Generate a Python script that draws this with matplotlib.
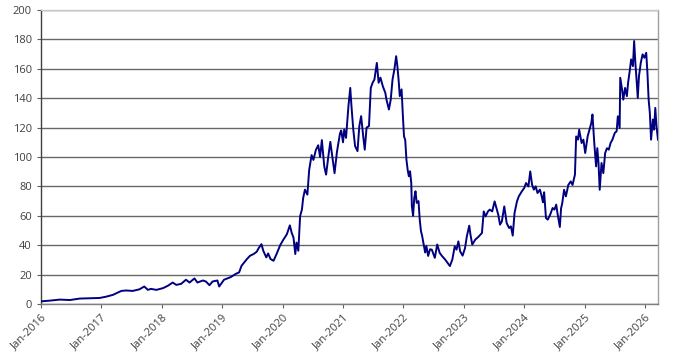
import matplotlib
matplotlib.use("Agg")
import matplotlib.pyplot as plt

# values (decimal year, price)
years = [
    2016.00, 2016.15, 2016.31, 2016.48, 2016.64, 2016.81, 2016.97,
    2017.08, 2017.19, 2017.33, 2017.41, 2017.52, 2017.63, 2017.71, 2017.77, 2017.82, 2017.91,
    2018.02, 2018.10, 2018.18, 2018.24, 2018.32, 2018.40, 2018.46, 2018.54, 2018.59, 2018.68,
    2018.73, 2018.79, 2018.84, 2018.92, 2018.95,
    2019.03, 2019.14, 2019.23, 2019.28, 2019.32, 2019.41, 2019.46, 2019.52, 2019.57, 2019.61,
    2019.65, 2019.68, 2019.73, 2019.76, 2019.80, 2019.85, 2019.90, 2019.96,
    2020.01, 2020.07, 2020.12, 2020.15, 2020.18, 2020.21, 2020.23, 2020.26, 2020.29, 2020.32,
    2020.34, 2020.37, 2020.41, 2020.44, 2020.48, 2020.51, 2020.55, 2020.59, 2020.62, 2020.65,
    2020.69, 2020.72, 2020.76, 2020.79, 2020.83, 2020.86, 2020.90, 2020.95, 2020.97,
    2021.00, 2021.02, 2021.05, 2021.09, 2021.12, 2021.14, 2021.17, 2021.20, 2021.24, 2021.27,
    2021.30, 2021.34, 2021.36, 2021.39, 2021.43, 2021.46, 2021.49, 2021.52, 2021.56, 2021.59,
    2021.62, 2021.66, 2021.70, 2021.72, 2021.76, 2021.79, 2021.82, 2021.85, 2021.88, 2021.90,
    2021.92, 2021.94, 2021.97, 2021.99,
    2022.01, 2022.03, 2022.05, 2022.07, 2022.09, 2022.11, 2022.13, 2022.14, 2022.16, 2022.18,
    2022.20, 2022.22, 2022.25, 2022.27, 2022.29, 2022.31, 2022.34, 2022.36, 2022.38, 2022.41,
    2022.44, 2022.47, 2022.52, 2022.56, 2022.60, 2022.64, 2022.69, 2022.73, 2022.77, 2022.81,
    2022.85, 2022.88, 2022.91, 2022.94, 2022.98,
    2023.02, 2023.05, 2023.09, 2023.11, 2023.14, 2023.19, 2023.24, 2023.30, 2023.33, 2023.36,
    2023.40, 2023.43, 2023.47, 2023.51, 2023.54, 2023.57, 2023.60, 2023.63, 2023.67, 2023.71,
    2023.75, 2023.78, 2023.81, 2023.84, 2023.88, 2023.91, 2023.96,
    2024.00, 2024.03, 2024.07, 2024.10, 2024.13, 2024.16, 2024.19, 2024.22, 2024.26, 2024.29,
    2024.31, 2024.33, 2024.36, 2024.39, 2024.43, 2024.47, 2024.50, 2024.53, 2024.55, 2024.59,
    2024.61, 2024.63, 2024.66, 2024.69, 2024.73, 2024.77, 2024.80, 2024.84, 2024.86, 2024.89,
    2024.91, 2024.95, 2024.98,
    2025.01, 2025.05, 2025.08, 2025.11, 2025.13, 2025.16, 2025.19, 2025.21, 2025.23, 2025.25,
    2025.28, 2025.31, 2025.34, 2025.37, 2025.40, 2025.43, 2025.46, 2025.50, 2025.53, 2025.55,
    2025.58, 2025.59, 2025.62, 2025.64, 2025.67, 2025.70, 2025.72, 2025.75, 2025.77, 2025.80,
    2025.82, 2025.84, 2025.86, 2025.88, 2025.90, 2025.93, 2025.96, 2025.99,
    2026.02, 2026.04, 2026.06, 2026.08, 2026.10, 2026.13, 2026.15, 2026.17, 2026.19, 2026.215,
]
price = [
    1.8, 2.3, 3.0, 2.7, 3.7, 3.9, 4.1,
    5.0, 6.2, 8.9, 9.2, 8.9, 10.0, 11.9, 9.6, 10.3, 9.6,
    10.8, 12.4, 14.6, 13.0, 13.7, 16.5, 14.6, 17.4, 14.6, 16.0,
    15.3, 12.8, 15.3, 16.0, 11.9,
    16.5, 18.3, 20.6, 21.5, 26.0, 30.6, 32.8, 34.0, 35.5, 38.4,
    40.7, 36.2, 31.7, 34.4, 30.6, 29.4, 34.0, 40.0,
    43.6, 47.4, 53.5, 48.5, 45.2, 34.0, 41.8, 36.2, 59.8, 64.3,
    72.0, 77.8, 74.4, 91.2, 101.3, 98.0, 104.7, 108.0, 100.0, 111.5,
    93.5, 88.0, 101.3, 110.3, 98.0, 89.0, 103.6, 116.0, 118.0,
    110.0, 118.7, 113.0, 134.6, 147.0, 134.6, 118.7, 107.4, 104.0, 121.0,
    127.8, 112.0, 105.0, 120.0, 121.0, 147.0, 150.5, 152.7, 164.0, 150.5,
    154.0, 148.0, 143.7, 139.0, 132.3, 139.0, 152.7, 159.5, 168.6, 161.8,
    152.7, 141.4, 146.0, 129.0,
    114.0, 111.7, 98.2, 91.4, 86.9, 90.3, 82.4, 66.6, 60.0, 72.2,
    76.7, 68.8, 70.0, 57.6, 49.7, 46.3, 39.5, 35.0, 39.5, 32.7,
    37.2, 37.0, 31.4, 40.5, 34.8, 32.6, 30.3, 28.0, 25.8, 30.3,
    39.2, 37.0, 42.6, 35.8, 32.9,
    38.0, 46.0, 53.3, 47.2, 40.4, 43.8, 45.6, 48.3, 63.0, 59.6,
    63.0, 64.2, 63.0, 69.8, 65.3, 60.8, 54.0, 56.2, 66.4, 55.0,
    51.7, 52.8, 46.5, 61.9, 69.8, 73.2, 76.6,
    78.9, 82.3, 80.0, 90.2, 81.2, 77.8, 80.0, 75.5, 77.8, 73.2,
    69.2, 76.0, 58.5, 57.4, 60.8, 65.3, 64.2, 67.6, 61.9, 52.4,
    65.0, 68.6, 77.7, 73.2, 81.0, 83.4, 81.0, 88.0, 114.0, 111.8,
    118.6, 109.5, 111.8,
    102.7, 114.0, 118.6, 123.0, 128.9, 109.5, 93.6, 106.0, 95.9, 77.7,
    95.9, 89.0, 102.7, 106.0, 105.0, 109.5, 111.8, 116.4, 117.5, 127.7,
    119.8, 153.9, 145.9, 139.0, 147.0, 141.4, 150.5, 159.5, 166.4, 161.8,
    178.9, 164.1, 152.7, 140.2, 155.0, 164.1, 169.8, 167.5,
    170.9, 157.3, 139.0, 130.0, 111.8, 125.5, 118.6, 133.4, 120.9, 111.8,
]

tick_years = list(range(2016, 2027))
tick_labels = ["Jan-%d" % y for y in tick_years]
y_ticks = list(range(0, 201, 20))

plt.rcParams["font.family"] = ["Open Sans", "DejaVu Sans"]

fig = plt.figure(figsize=(6.76, 3.55), dpi=100)
ax = fig.add_axes([41 / 676, 1 - 304 / 355, 617 / 676, 294 / 355])

ax.plot(years, price, color="#000080", lw=1.4, zorder=3)

ax.set_xlim(2016.0, 2026.215)
ax.set_ylim(0, 200)
ax.set_yticks(y_ticks)
ax.set_xticks(tick_years)
ax.set_xticklabels(tick_labels, rotation=45, ha="right", rotation_mode="anchor")

ax.grid(axis="y", color="#686868", lw=1.0)
ax.set_axisbelow(True)

ax.tick_params(axis="both", labelsize=8, labelcolor="#404040", color="#606060",
               length=3, width=0.8)
ax.tick_params(axis="x", pad=3)

ax.spines["left"].set_color("#404040")
ax.spines["bottom"].set_color("#808080")
ax.spines["top"].set_color("#c8c8c8")
ax.spines["right"].set_color("#a0a0a0")
for s in ax.spines.values():
    s.set_linewidth(1.0)

fig.savefig("out.png", dpi=100)
